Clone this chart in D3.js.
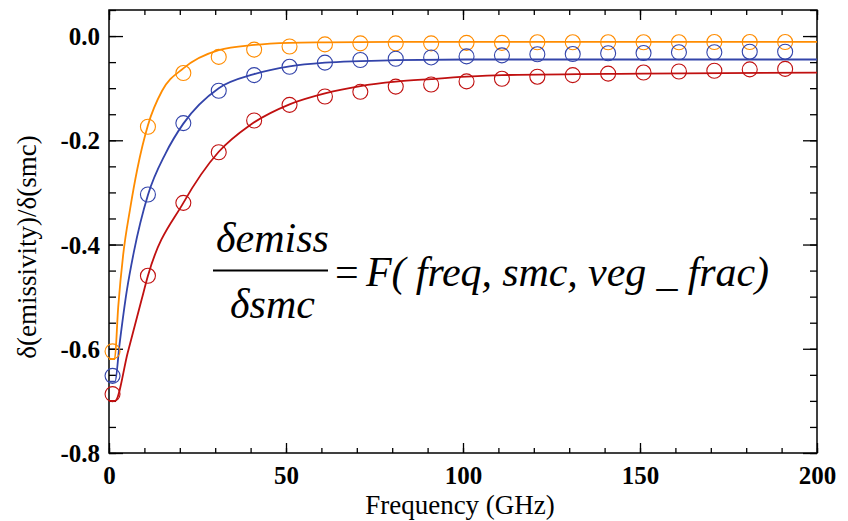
<!DOCTYPE html>
<html>
<head>
<meta charset="utf-8">
<script src="https://cdn.jsdelivr.net/npm/d3@7"></script>
<style>
  html, body { margin: 0; padding: 0; background: #fff; }
  svg { display: block; }
  .serif { font-family: "Liberation Serif", "Times New Roman", Times, "DejaVu Serif", serif; }
</style>
</head>
<body>
<svg id="chart" width="848" height="521"></svg>
<script>
// ---------------- data ----------------
const markerFreq = [1, 11, 21, 31, 41, 51, 61, 71, 81, 91, 101, 111, 121, 131, 141, 151, 161, 171, 181, 191];
const orangeMarkers = [-0.605, -0.174, -0.071, -0.040, -0.026, -0.020, -0.016, -0.014, -0.014, -0.014, -0.013, -0.013, -0.012, -0.012, -0.012, -0.012, -0.012, -0.0115, -0.0115, -0.0115];
const blueMarkers   = [-0.652, -0.304, -0.167, -0.105, -0.075, -0.059, -0.051, -0.046, -0.0435, -0.041, -0.039, -0.037, -0.035, -0.0345, -0.033, -0.0326, -0.031, -0.031, -0.030, -0.030];
const redMarkers    = [-0.687, -0.460, -0.320, -0.223, -0.162, -0.132, -0.116, -0.107, -0.097, -0.093, -0.087, -0.082, -0.078, -0.075, -0.072, -0.070, -0.068, -0.0665, -0.064, -0.063];

const orangeLineFreq = [0, 1.6, 2.6, 4, 6, 8, 11, 15, 21, 31, 41, 51, 61, 80, 120, 200];
const orangeLineVal  = [-0.62, -0.62, -0.52, -0.42, -0.33, -0.255, -0.171, -0.105, -0.062, -0.027, -0.017, -0.013, -0.012, -0.011, -0.011, -0.011];
const blueLineFreq = [0, 1.7, 3, 5, 7, 11, 16, 21, 31, 41, 51, 61, 71, 81, 101, 140, 200];
const blueLineVal  = [-0.663, -0.663, -0.59, -0.49, -0.415, -0.305, -0.225, -0.168, -0.100, -0.073, -0.058, -0.051, -0.048, -0.046, -0.045, -0.045, -0.045];
const redLineFreq = [0, 1.7, 5.3, 9.2, 11, 21, 31, 39.8, 51, 61, 71, 81, 91, 101, 111, 151, 200];
const redLineVal  = [-0.70, -0.70, -0.607, -0.506, -0.46, -0.32, -0.222, -0.171, -0.131, -0.110, -0.096, -0.0876, -0.0825, -0.078, -0.075, -0.072, -0.070];

const xMajorTicks = [0, 50, 100, 150, 200];
const xMinorTicks = d3.range(0, 201, 10);
const yMajorTicks = [0.0, -0.2, -0.4, -0.6, -0.8];
const yMinorTicks = d3.range(-0.8, 0.051, 0.05);
const yTickLabels = ["0.0", "-0.2", "-0.4", "-0.6", "-0.8"];
const xTickLabels = ["0", "50", "100", "150", "200"];

const seriesColors = { orange: "#ff8c00", blue: "#3344aa", red: "#c01010" };

// ---------------- layout ----------------
const svg = d3.select("#chart");
const x = d3.scaleLinear().domain([0, 200]).range([109, 817]);
const y = d3.scaleLinear().domain([-0.8, 0.05]).range([453, 10]);

function drawAxis(axis, transform, labels) {
  const g = svg.append("g").attr("transform", transform).call(axis);
  g.attr("font-family", null).attr("font-size", null);
  g.select(".domain").remove();
  g.selectAll("line").attr("stroke", "#000").attr("stroke-width", 1.3);
  if (!labels) g.selectAll("text").remove();
  return g;
}
// minor ticks (inward)
drawAxis(d3.axisBottom(x).tickValues(xMinorTicks).tickSize(-5).tickFormat(""), `translate(0,${y(-0.8)})`, false);
drawAxis(d3.axisTop(x).tickValues(xMinorTicks).tickSize(-5).tickFormat(""), `translate(0,${y(0.05)})`, false);
drawAxis(d3.axisLeft(y).tickValues(yMinorTicks).tickSize(-7).tickFormat(""), `translate(${x(0)},0)`, false);
drawAxis(d3.axisRight(y).tickValues(yMinorTicks).tickSize(-7).tickFormat(""), `translate(${x(200)},0)`, false);
// major ticks
const gx = drawAxis(d3.axisBottom(x).tickValues(xMajorTicks).tickSize(-10).tickPadding(13)
  .tickFormat((d, i) => xTickLabels[i]), `translate(0,${y(-0.8)})`, true);
drawAxis(d3.axisTop(x).tickValues(xMajorTicks).tickSize(-10).tickFormat(""), `translate(0,${y(0.05)})`, false);
const gy = drawAxis(d3.axisLeft(y).tickValues(yMajorTicks).tickSize(-14).tickPadding(9)
  .tickFormat((d, i) => yTickLabels[i]), `translate(${x(0)},0)`, true);
drawAxis(d3.axisRight(y).tickValues(yMajorTicks).tickSize(-14).tickFormat(""), `translate(${x(200)},0)`, false);

[gx, gy].forEach(g => g.selectAll("text")
  .attr("class", "serif")
  .style("font-size", "25px").style("font-weight", "bold").attr("fill", "#000"));
gy.selectAll("text").attr("dy", "0.34em");

// frame
svg.append("rect")
  .attr("x", x(0)).attr("y", y(0.05))
  .attr("width", x(200) - x(0)).attr("height", y(-0.8) - y(0.05))
  .attr("fill", "none").attr("stroke", "#000").attr("stroke-width", 1.5);

// curves
const line = d3.line().x(d => x(d[0])).y(d => y(d[1])).curve(d3.curveMonotoneX);
const curves = [
  { f: orangeLineFreq, v: orangeLineVal, c: seriesColors.orange },
  { f: blueLineFreq, v: blueLineVal, c: seriesColors.blue },
  { f: redLineFreq, v: redLineVal, c: seriesColors.red }
];
curves.forEach(s => {
  svg.append("path")
    .datum(s.f.map((f, i) => [f, s.v[i]]))
    .attr("d", line)
    .attr("fill", "none").attr("stroke", s.c).attr("stroke-width", 1.8);
});

// markers
const markers = [
  { v: orangeMarkers, c: seriesColors.orange },
  { v: blueMarkers, c: seriesColors.blue },
  { v: redMarkers, c: seriesColors.red }
];
markers.forEach(s => {
  svg.append("g").selectAll("circle")
    .data(markerFreq.map((f, i) => [f, s.v[i]]))
    .join("circle")
    .attr("cx", d => x(d[0])).attr("cy", d => y(d[1]))
    .attr("r", 7.5)
    .attr("fill", "none").attr("stroke", s.c).attr("stroke-width", 1.1);
});

// axis titles
svg.append("text").attr("class", "serif")
  .attr("x", (x(0) + x(200)) / 2 - 3).attr("y", 514)
  .attr("text-anchor", "middle")
  .style("font-size", "27px").attr("fill", "#000")
  .text("Frequency (GHz)");
svg.append("text").attr("class", "serif")
  .attr("transform", `translate(36,247) rotate(-90)`)
  .attr("text-anchor", "middle")
  .style("font-size", "27px").attr("fill", "#000")
  .text("δ(emissivity)/δ(smc)");

// equation
const fracL = 213, fracR = 328, fracY = 270.5;
function itText(px, py, str, anchor) {
  return svg.append("text").attr("class", "serif")
    .attr("x", px).attr("y", py)
    .attr("text-anchor", anchor)
    .style("font-size", "42px").style("font-style", "italic").attr("fill", "#000")
    .attr("xml:space", "preserve")
    .text(str);
}
itText((fracL + fracR) / 2 + 2, 252, "δemiss", "middle");
svg.append("line").attr("x1", fracL).attr("x2", fracR).attr("y1", fracY).attr("y2", fracY)
  .attr("stroke", "#000").attr("stroke-width", 2);
itText((fracL + fracR) / 2 + 2, 318, "δsmc", "middle");
svg.append("text").attr("class", "serif")
  .attr("x", fracR + 7).attr("y", 286)
  .style("font-size", "42px").attr("fill", "#000")
  .text("=");
itText(fracR + 38, 286, "F( freq, smc, veg _ frac)", "start")
  .attr("textLength", 403).attr("lengthAdjust", "spacing");
</script>
</body>
</html>
